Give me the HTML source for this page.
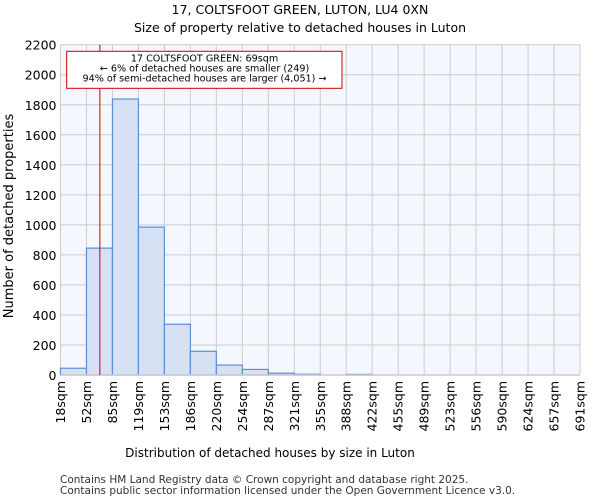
<!DOCTYPE html>
<html><head><meta charset="utf-8"><style>
body{margin:0;background:#fff;font-family:"DejaVu Sans","Liberation Sans",sans-serif}
svg text{font-family:"DejaVu Sans","Liberation Sans",sans-serif}
</style></head><body>
<svg id="c" width="600" height="500" xmlns="http://www.w3.org/2000/svg">
<text x="300" y="14" text-anchor="middle" font-size="12.5">17, COLTSFOOT GREEN, LUTON, LU4 0XN</text>
<text x="300" y="32" text-anchor="middle" font-size="12.5">Size of property relative to detached houses in Luton</text>
<rect x="60.5" y="44.7" width="519.5" height="330.3" fill="#f4f7fd"/>
<g id="grid"></g><g id="bars"></g><g id="axes"></g>
<text x="270" y="457" text-anchor="middle" font-size="12">Distribution of detached houses by size in Luton</text>
<text transform="translate(13,216) rotate(-90)" text-anchor="middle" font-size="13">Number of detached properties</text>
<text x="60" y="483" font-size="10.5" fill="#333">Contains HM Land Registry data © Crown copyright and database right 2025.</text>
<text x="60" y="494" font-size="10.5" fill="#333">Contains public sector information licensed under the Open Government Licence v3.0.</text>
</svg>
<script>
const categories=["18sqm","52sqm","85sqm","119sqm","153sqm","186sqm","220sqm","254sqm","287sqm","321sqm","355sqm","388sqm","422sqm","455sqm","489sqm","523sqm","556sqm","590sqm","624sqm","657sqm","691sqm"];
const binEdges=[18,52,85,119,153,186,220,254,287,321,355,388,422,455,489,523,556,590,624,657,691];
const counts=[45,845,1838,985,338,158,66,37,12,5,0,4,0,0,0,0,0,0,0,0];
const yTicks=[0,200,400,600,800,1000,1200,1400,1600,1800,2000,2200];
const subjectSize=69;
const NS="http://www.w3.org/2000/svg";
const L=60.5,R=580,T=44.7,B=375,yMax=2200;
const y=v=>B-v/yMax*(B-T);
const xi=i=>L+i*(R-L)/counts.length;
const xv=v=>{for(let i=0;i<binEdges.length-1;i++){if(v<=binEdges[i+1])return xi(i)+(v-binEdges[i])/(binEdges[i+1]-binEdges[i])*(xi(i+1)-xi(i));}return R;};
function mk(t,a,p){const e=document.createElementNS(NS,t);for(const k in a)e.setAttribute(k,a[k]);p.appendChild(e);return e;}
const grid=document.getElementById('grid'),bars=document.getElementById('bars'),axes=document.getElementById('axes');
yTicks.forEach(v=>{const l=mk('line',{x1:L,x2:R,y1:y(v),y2:y(v),stroke:'#cccccc','stroke-width':1},grid);


const t=mk('text',{x:L-4,y:y(v)+5,'text-anchor':'end','font-size':12.5},axes);t.textContent=v;

});
categories.forEach((c,i)=>{const x=xi(i);const l=mk('line',{x1:x,x2:x,y1:T,y2:B,stroke:'#cccccc','stroke-width':1},grid);


const t=mk('text',{transform:`translate(${x+4.5},${B+6}) rotate(-90)`,'text-anchor':'end','font-size':12.5},axes);t.textContent=c;

});
counts.forEach((v,i)=>{if(v<=0)return;const r=mk('rect',{x:xi(i),y:y(v),width:xi(i+1)-xi(i),height:B-y(v),fill:'#d6e1f3',stroke:'#5b8fd6','stroke-width':1.2},bars);

});
const bl=mk('line',{x1:L,x2:R,y1:B,y2:B,stroke:'#cccccc','stroke-width':1.5},axes);


const sx=xv(subjectSize);
const ml=mk('line',{x1:sx,x2:sx,y1:T,y2:B,stroke:'#cc0000','stroke-width':1},axes);


const box=mk('rect',{x:66.7,y:51.3,width:275.3,height:37,fill:'#fff',stroke:'#cc0000','stroke-width':1},axes);


["17 COLTSFOOT GREEN: 69sqm","← 6% of detached houses are smaller (249)","94% of semi-detached houses are larger (4,051) →"].forEach((s,i)=>{const t=mk('text',{x:204.5,y:61.5+i*10,'text-anchor':'middle','font-size':9.6},axes);t.textContent=s;

});
</script>
</body></html>
